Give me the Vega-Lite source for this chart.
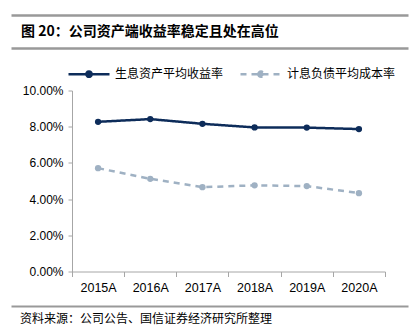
{
  "$schema": "https://vega.github.io/schema/vega-lite/v6.json",
  "padding": {"left": 11, "top": 15, "right": 4, "bottom": 0},
  "autosize": {"type": "pad"},
  "spacing": 3.5,
  "resolve": {"legend": {"color": "independent", "strokeDash": "independent"}},
  "config": {"view": {"stroke": null}, "font": "Liberation Sans"},
  "vconcat": [
    {
      "width": 397,
      "height": 33,
      "data": {"values": [{"t": "图 20：公司资产端收益率稳定且处在高位"}]},
      "layer": [
        {
          "mark": {"type": "text", "align": "left", "baseline": "middle", "dx": 10, "fontSize": 14, "fontWeight": "bold", "font": "Noto Sans CJK SC", "color": "#000000"},
          "encoding": {
            "text": {"field": "t"},
            "x": {"datum": 0, "type": "quantitative", "scale": {"domain": [0, 1]},
              "axis": {"orient": "top", "title": null, "domain": true, "domainColor": "#999999", "domainWidth": 2.5, "ticks": false, "labels": false, "grid": false}},
            "y": {"datum": 0.5, "type": "quantitative", "scale": {"domain": [0, 1]}, "axis": null}
          }
        },
        {
          "mark": {"type": "text", "align": "left", "dx": 10, "opacity": 0},
          "encoding": {
            "text": {"value": ""},
            "x": {"datum": 0, "type": "quantitative",
              "axis": {"orient": "bottom", "title": null, "domain": true, "domainColor": "#999999", "domainWidth": 2.5, "ticks": false, "labels": false, "grid": false}},
            "y": {"datum": 0.5, "type": "quantitative", "axis": null}
          }
        }
      ],
      "resolve": {"axis": {"x": "independent"}}
    },
    {
      "width": 397,
      "height": 181,
      "data": {"values": [
        {"year": "2015A", "series": "生息资产平均收益率", "rate": 0.0827},
        {"year": "2016A", "series": "生息资产平均收益率", "rate": 0.0842},
        {"year": "2017A", "series": "生息资产平均收益率", "rate": 0.0816},
        {"year": "2018A", "series": "生息资产平均收益率", "rate": 0.0796},
        {"year": "2019A", "series": "生息资产平均收益率", "rate": 0.0795},
        {"year": "2020A", "series": "生息资产平均收益率", "rate": 0.0787},
        {"year": "2015A", "series": "计息负债平均成本率", "rate": 0.0571},
        {"year": "2016A", "series": "计息负债平均成本率", "rate": 0.0512},
        {"year": "2017A", "series": "计息负债平均成本率", "rate": 0.0466},
        {"year": "2018A", "series": "计息负债平均成本率", "rate": 0.0476},
        {"year": "2019A", "series": "计息负债平均成本率", "rate": 0.0472},
        {"year": "2020A", "series": "计息负债平均成本率", "rate": 0.0433}
      ]},
      "encoding": {
        "x": {"field": "year", "type": "nominal", "sort": null, "bandPosition": 0.5,
          "scale": {"type": "band", "paddingInner": 0, "paddingOuter": 0, "range": [61, 374]},
          "axis": {"title": null, "labelAngle": 0, "tickBand": "extent", "domainColor": "#a6a6a6", "tickColor": "#a6a6a6", "tickSize": 5, "labelFontSize": 12.5, "labelColor": "#000000", "labelPadding": 5, "grid": false, "minExtent": 30.5}},
        "y": {"field": "rate", "type": "quantitative", "scale": {"domain": [0, 0.1]},
          "axis": {"title": null, "offset": -61, "values": [0, 0.02, 0.04, 0.06, 0.08, 0.1], "format": ".2%", "domainColor": "#a6a6a6", "tickColor": "#a6a6a6", "tickSize": 4, "labelFontSize": 12, "labelColor": "#000000", "labelPadding": 5, "grid": false}},
        "color": {"field": "series", "type": "nominal", "sort": ["生息资产平均收益率", "计息负债平均成本率"],
          "scale": {"range": ["#0d2c5a", "#9fb1c3"]},
          "legend": {"orient": "none", "legendX": 56, "legendY": -38.5, "title": null, "direction": "horizontal",
            "symbolType": "M-1,0H1M-0.13,0A0.13,0.13,0,1,1,0.13,0A0.13,0.13,0,1,1,-0.13,0Z",
            "symbolSize": 1681, "symbolStrokeWidth": 2.5, "labelFont": "Noto Sans CJK SC", "labelFontSize": 12, "labelColor": "#000000", "columnPadding": 11, "labelOffset": 4,
            "encode": {"symbols": {"update": {"fill": {"scale": "color", "field": "value"}, "stroke": {"scale": "color", "field": "value"}, "strokeDash": {"scale": "strokeDash", "field": "value"}, "opacity": {"value": 1}}}}}}
      },
      "layer": [
        {
          "mark": {"type": "line", "strokeWidth": 2.5},
          "encoding": {
            "strokeDash": {"field": "series", "type": "nominal", "sort": ["生息资产平均收益率", "计息负债平均成本率"],
              "scale": {"range": [[1, 0], [6, 5]]}, "legend": null}
          }
        },
        {"mark": {"type": "point", "filled": true, "size": 40, "opacity": 1}}
      ]
    },
    {
      "width": 397,
      "height": 26,
      "data": {"values": [{"t": "资料来源：公司公告、国信证券经济研究所整理"}]},
      "mark": {"type": "text", "align": "left", "baseline": "middle", "dx": 9, "fontSize": 12, "font": "Noto Sans CJK SC", "color": "#000000"},
      "encoding": {
        "text": {"field": "t"},
        "x": {"datum": 0, "type": "quantitative", "scale": {"domain": [0, 1]},
          "axis": {"orient": "top", "title": null, "domain": true, "domainColor": "#999999", "domainWidth": 2, "ticks": false, "labels": false, "grid": false}},
        "y": {"datum": 0.5, "type": "quantitative", "scale": {"domain": [0, 1]}, "axis": null}
      }
    }
  ]
}
